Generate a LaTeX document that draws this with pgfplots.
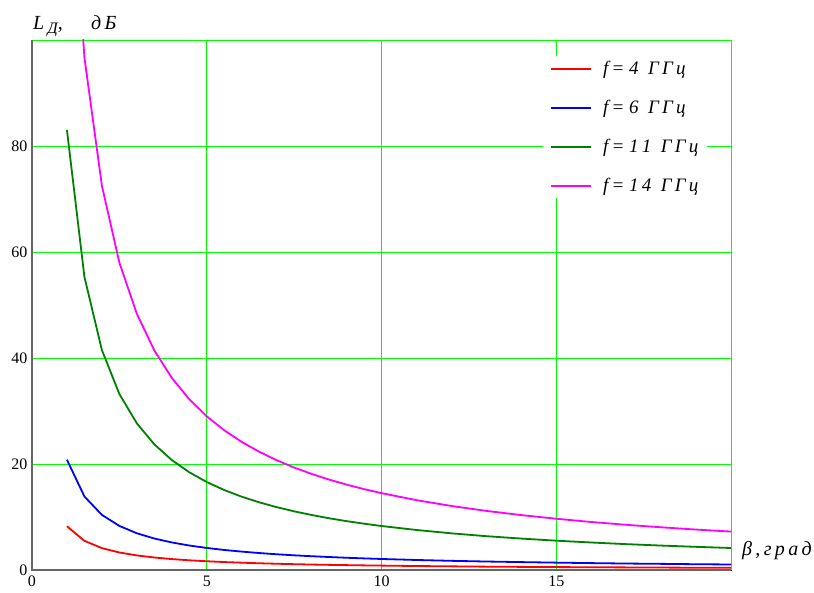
\documentclass[border=0pt]{standalone}
\usepackage{fontspec}
\setmainfont{Liberation Serif}
\usepackage{pgfplots}
\pgfplotsset{compat=1.18}
\definecolor{gridgreen}{RGB}{0,255,0}
\definecolor{dgreen}{RGB}{0,128,0}
\definecolor{mag}{RGB}{255,0,255}
\begin{document}
\begin{tikzpicture}
\begin{axis}[
  scale only axis,
  width=699pt, height=530pt,
  xmin=0, xmax=20, ymin=0, ymax=100,
  xtick={0,5,10,15}, ytick={0,20,40,60,80},
  extra x ticks={20}, extra x tick labels={},
  extra y ticks={100}, extra y tick labels={},
  major tick length=0pt,
  grid=major,
  major grid style={gridgreen, line width=0.9pt},
  axis line style={black, line width=0.8pt},
  tick label style={font=\fontsize{16}{18}\selectfont},
  /pgf/number format/assume math mode=true,
  yticklabel style={xshift=-1pt},
  xticklabel style={yshift=-2pt},
  clip mode=individual,
  legend cell align=left,
  legend style={at={(0.731,0.97)}, anchor=north west, draw=none, fill=white,
    font=\fontsize{19}{22}\selectfont\itshape, row sep=20.2pt, inner xsep=7pt, inner ysep=3pt},
  legend image code/.code={\draw[#1, line width=2pt] (0pt,0pt) -- (40pt,0pt); \path[draw=none] (0pt,0pt) -- (50pt,0pt);},
  every axis plot/.append style={line width=1.8pt},
]
\addplot[red] coordinates {(1,8.25)(1.5,5.5)(2,4.13)(2.5,3.3)(3,2.75)(3.5,2.36)(4,2.06)(4.5,1.83)(5,1.65)(5.5,1.5)(6,1.38)(6.5,1.27)(7,1.18)(7.5,1.1)(8,1.03)(8.5,0.97)(9,0.92)(9.5,0.87)(10,0.83)(11,0.75)(12,0.69)(13,0.63)(14,0.59)(15,0.55)(16,0.52)(17,0.49)(18,0.46)(19,0.43)(20,0.41)};
\addlegendentry{f\,= 4\ \ Г\,Г\,ц}
\addplot[blue] coordinates {(1,20.8)(1.5,13.87)(2,10.4)(2.5,8.32)(3,6.93)(3.5,5.94)(4,5.2)(4.5,4.62)(5,4.16)(5.5,3.78)(6,3.47)(6.5,3.2)(7,2.97)(7.5,2.77)(8,2.6)(8.5,2.45)(9,2.31)(9.5,2.19)(10,2.08)(11,1.89)(12,1.73)(13,1.6)(14,1.49)(15,1.39)(16,1.3)(17,1.22)(18,1.16)(19,1.09)(20,1.04)};
\addlegendentry{f\,= 6\ \ Г\,Г\,ц}
\addplot[dgreen] coordinates {(1,83)(1.5,55.3)(2,41.5)(2.5,33.2)(3,27.67)(3.5,23.71)(4,20.75)(4.5,18.44)(5,16.6)(5.5,15.09)(6,13.83)(6.5,12.77)(7,11.86)(7.5,11.07)(8,10.38)(8.5,9.76)(9,9.22)(9.5,8.74)(10,8.3)(11,7.55)(12,6.92)(13,6.38)(14,5.93)(15,5.53)(16,5.19)(17,4.88)(18,4.61)(19,4.37)(20,4.15)};
\addlegendentry{f\,= 1\,1\ \ Г\,Г\,ц}
\addplot[mag] coordinates {(1,145)(1.5,96.7)(2,72.5)(2.5,58)(3,48.33)(3.5,41.43)(4,36.25)(4.5,32.22)(5,29)(5.5,26.36)(6,24.17)(6.5,22.31)(7,20.71)(7.5,19.33)(8,18.13)(8.5,17.06)(9,16.11)(9.5,15.26)(10,14.5)(11,13.18)(12,12.08)(13,11.15)(14,10.36)(15,9.67)(16,9.06)(17,8.53)(18,8.06)(19,7.63)(20,7.25)};
\addlegendentry{f\,= 1\,4\ \ Г\,Г\,ц}
\draw[gray!80!black, line width=1.6pt] (rel axis cs:0,1) -- (rel axis cs:0,0) -- (rel axis cs:1,0);
\node[anchor=base west, font=\fontsize{20}{22}\selectfont\itshape, inner sep=0pt] at ([xshift=1pt, yshift=10pt]rel axis cs:0,1) {L\,\raisebox{-0.35ex}{\fontsize{16}{18}\selectfont Д},\quad\ \,д\,Б};
\node[anchor=base west, font=\fontsize{20}{22}\selectfont\itshape, inner sep=0pt] at ([xshift=11pt, yshift=15pt]rel axis cs:1,0) {β\,,\,г\,р\,а\,д};
\end{axis}
\pgfresetboundingbox
\path[use as bounding box] (-32pt,-22pt) rectangle (782pt,570pt);
\end{tikzpicture}
\end{document}
